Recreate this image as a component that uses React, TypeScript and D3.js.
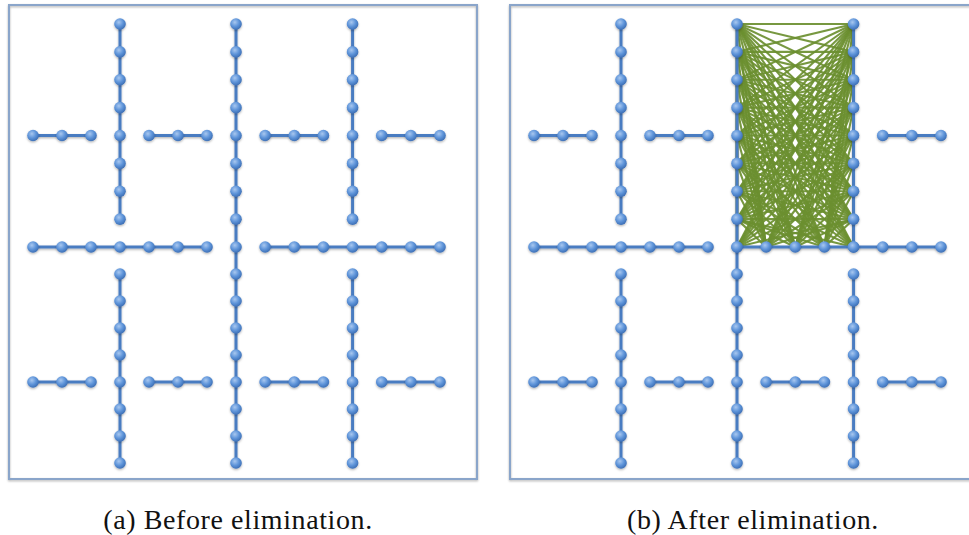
import React, { Component } from "react";
import * as d3 from "d3";

// grid graph, in grid units (col 0..14, row 0..16)
// each chain: [orientation, fixed index, from, to]
const chainsBefore = [
  ["v", 7, 0, 16],
  ["h", 8, 0, 6],
  ["h", 8, 8, 14],
  ["v", 3, 0, 7],
  ["v", 11, 0, 7],
  ["v", 3, 9, 16],
  ["v", 11, 9, 16],
  ["h", 4, 0, 2],
  ["h", 4, 4, 6],
  ["h", 4, 8, 10],
  ["h", 4, 12, 14],
  ["h", 13, 0, 2],
  ["h", 13, 4, 6],
  ["h", 13, 8, 10],
  ["h", 13, 12, 14],
];

// after eliminating the interior group (row 4, cols 8-10)
const chainsAfter = [
  ["v", 7, 0, 16],
  ["h", 8, 0, 6],
  ["h", 8, 7, 14],
  ["v", 3, 0, 7],
  ["v", 11, 0, 8],
  ["v", 3, 9, 16],
  ["v", 11, 9, 16],
  ["h", 4, 0, 2],
  ["h", 4, 4, 6],
  ["h", 4, 12, 14],
  ["h", 13, 0, 2],
  ["h", 13, 4, 6],
  ["h", 13, 8, 10],
  ["h", 13, 12, 14],
];

// boundary nodes that become a clique (fill-in)
const fillChains = [
  ["v", 7, 0, 8],
  ["v", 11, 0, 8],
  ["h", 8, 8, 10],
];

const captions = ["(a) Before elimination.", "(b) After elimination."];

const chainNodes = (c) =>
  d3.range(c[2], c[3] + 1).map((k) => (c[0] === "v" ? { col: c[1], row: k } : { col: k, row: c[1] }));

class App extends Component {
  ref = React.createRef();

  componentDidMount() {
    this.chart();
  }

  componentDidUpdate() {
    this.chart();
  }

  chart() {
    const svg = d3.select(this.ref.current);
    svg.selectAll("*").remove();

    const defs = svg.append("defs");
    const grad = defs.append("radialGradient").attr("id", "nodeGrad").attr("cx", "40%").attr("cy", "35%").attr("r", "65%");
    grad.append("stop").attr("offset", "0%").attr("stop-color", "#a8c7ef");
    grad.append("stop").attr("offset", "55%").attr("stop-color", "#5f95da");
    grad.append("stop").attr("offset", "100%").attr("stop-color", "#3e70b6");
    const sh = defs.append("filter").attr("id", "shadow").attr("x", "-50%").attr("y", "-50%").attr("width", "200%").attr("height", "200%");
    sh.append("feDropShadow").attr("dx", 0).attr("dy", 1.2).attr("stdDeviation", 1).attr("flood-color", "#000").attr("flood-opacity", 0.3);

    const x = d3.scaleLinear().domain([0, 7, 14]).range([33, 236, 440]);
    const y = d3.scaleLinear().domain([0, 8, 16]).range([24, 247, 463]);

    const panels = [
      { dx: 0, chains: chainsBefore, fill: [] },
      { dx: 501, chains: chainsAfter, fill: fillChains },
    ];

    panels.forEach((p, i) => {
      const g = svg.append("g").attr("transform", `translate(${p.dx},0)`);

      g.append("rect")
        .attr("x", 9).attr("y", 5).attr("width", 468).attr("height", 474)
        .attr("fill", "none").attr("stroke", "#8aa5ca").attr("stroke-width", 2)
        .attr("filter", "url(#shadow)");

      // fill-in edges
      const fillNodes = p.fill.flatMap(chainNodes);
      const fillEdges = [];
      fillNodes.forEach((a, ai) => fillNodes.slice(ai + 1).forEach((b) => fillEdges.push([a, b])));
      g.append("g").selectAll("line").data(fillEdges).join("line")
        .attr("x1", (d) => x(d[0].col)).attr("y1", (d) => y(d[0].row))
        .attr("x2", (d) => x(d[1].col)).attr("y2", (d) => y(d[1].row))
        .attr("stroke", "#6b8f30").attr("stroke-width", 2.1).attr("stroke-opacity", 0.92);

      const line = d3.line().x((d) => x(d.col)).y((d) => y(d.row));
      g.append("g").attr("filter", "url(#shadow)").selectAll("path").data(p.chains).join("path")
        .attr("d", (c) => line(chainNodes(c)))
        .attr("fill", "none").attr("stroke", "#4a7cc1").attr("stroke-width", 3);

      const nodes = p.chains.flatMap(chainNodes);
      g.append("g").attr("filter", "url(#shadow)").selectAll("circle").data(nodes).join("circle")
        .attr("cx", (d) => x(d.col)).attr("cy", (d) => y(d.row)).attr("r", 5.8)
        .attr("fill", "url(#nodeGrad)");

      svg.append("text")
        .attr("x", i === 0 ? 238 : 753).attr("y", 529)
        .attr("text-anchor", "middle")
        .attr("font-family", "Liberation Serif, Times New Roman, serif")
        .attr("font-size", 28).attr("letter-spacing", 0.6)
        .attr("fill", "#111")
        .text(captions[i]);
    });
  }

  render() {
    return (
      <svg ref={this.ref} width={969} height={535}
        style={{ position: "absolute", left: 0, top: 0, background: "#fff" }} />
    );
  }
}

export default App;
